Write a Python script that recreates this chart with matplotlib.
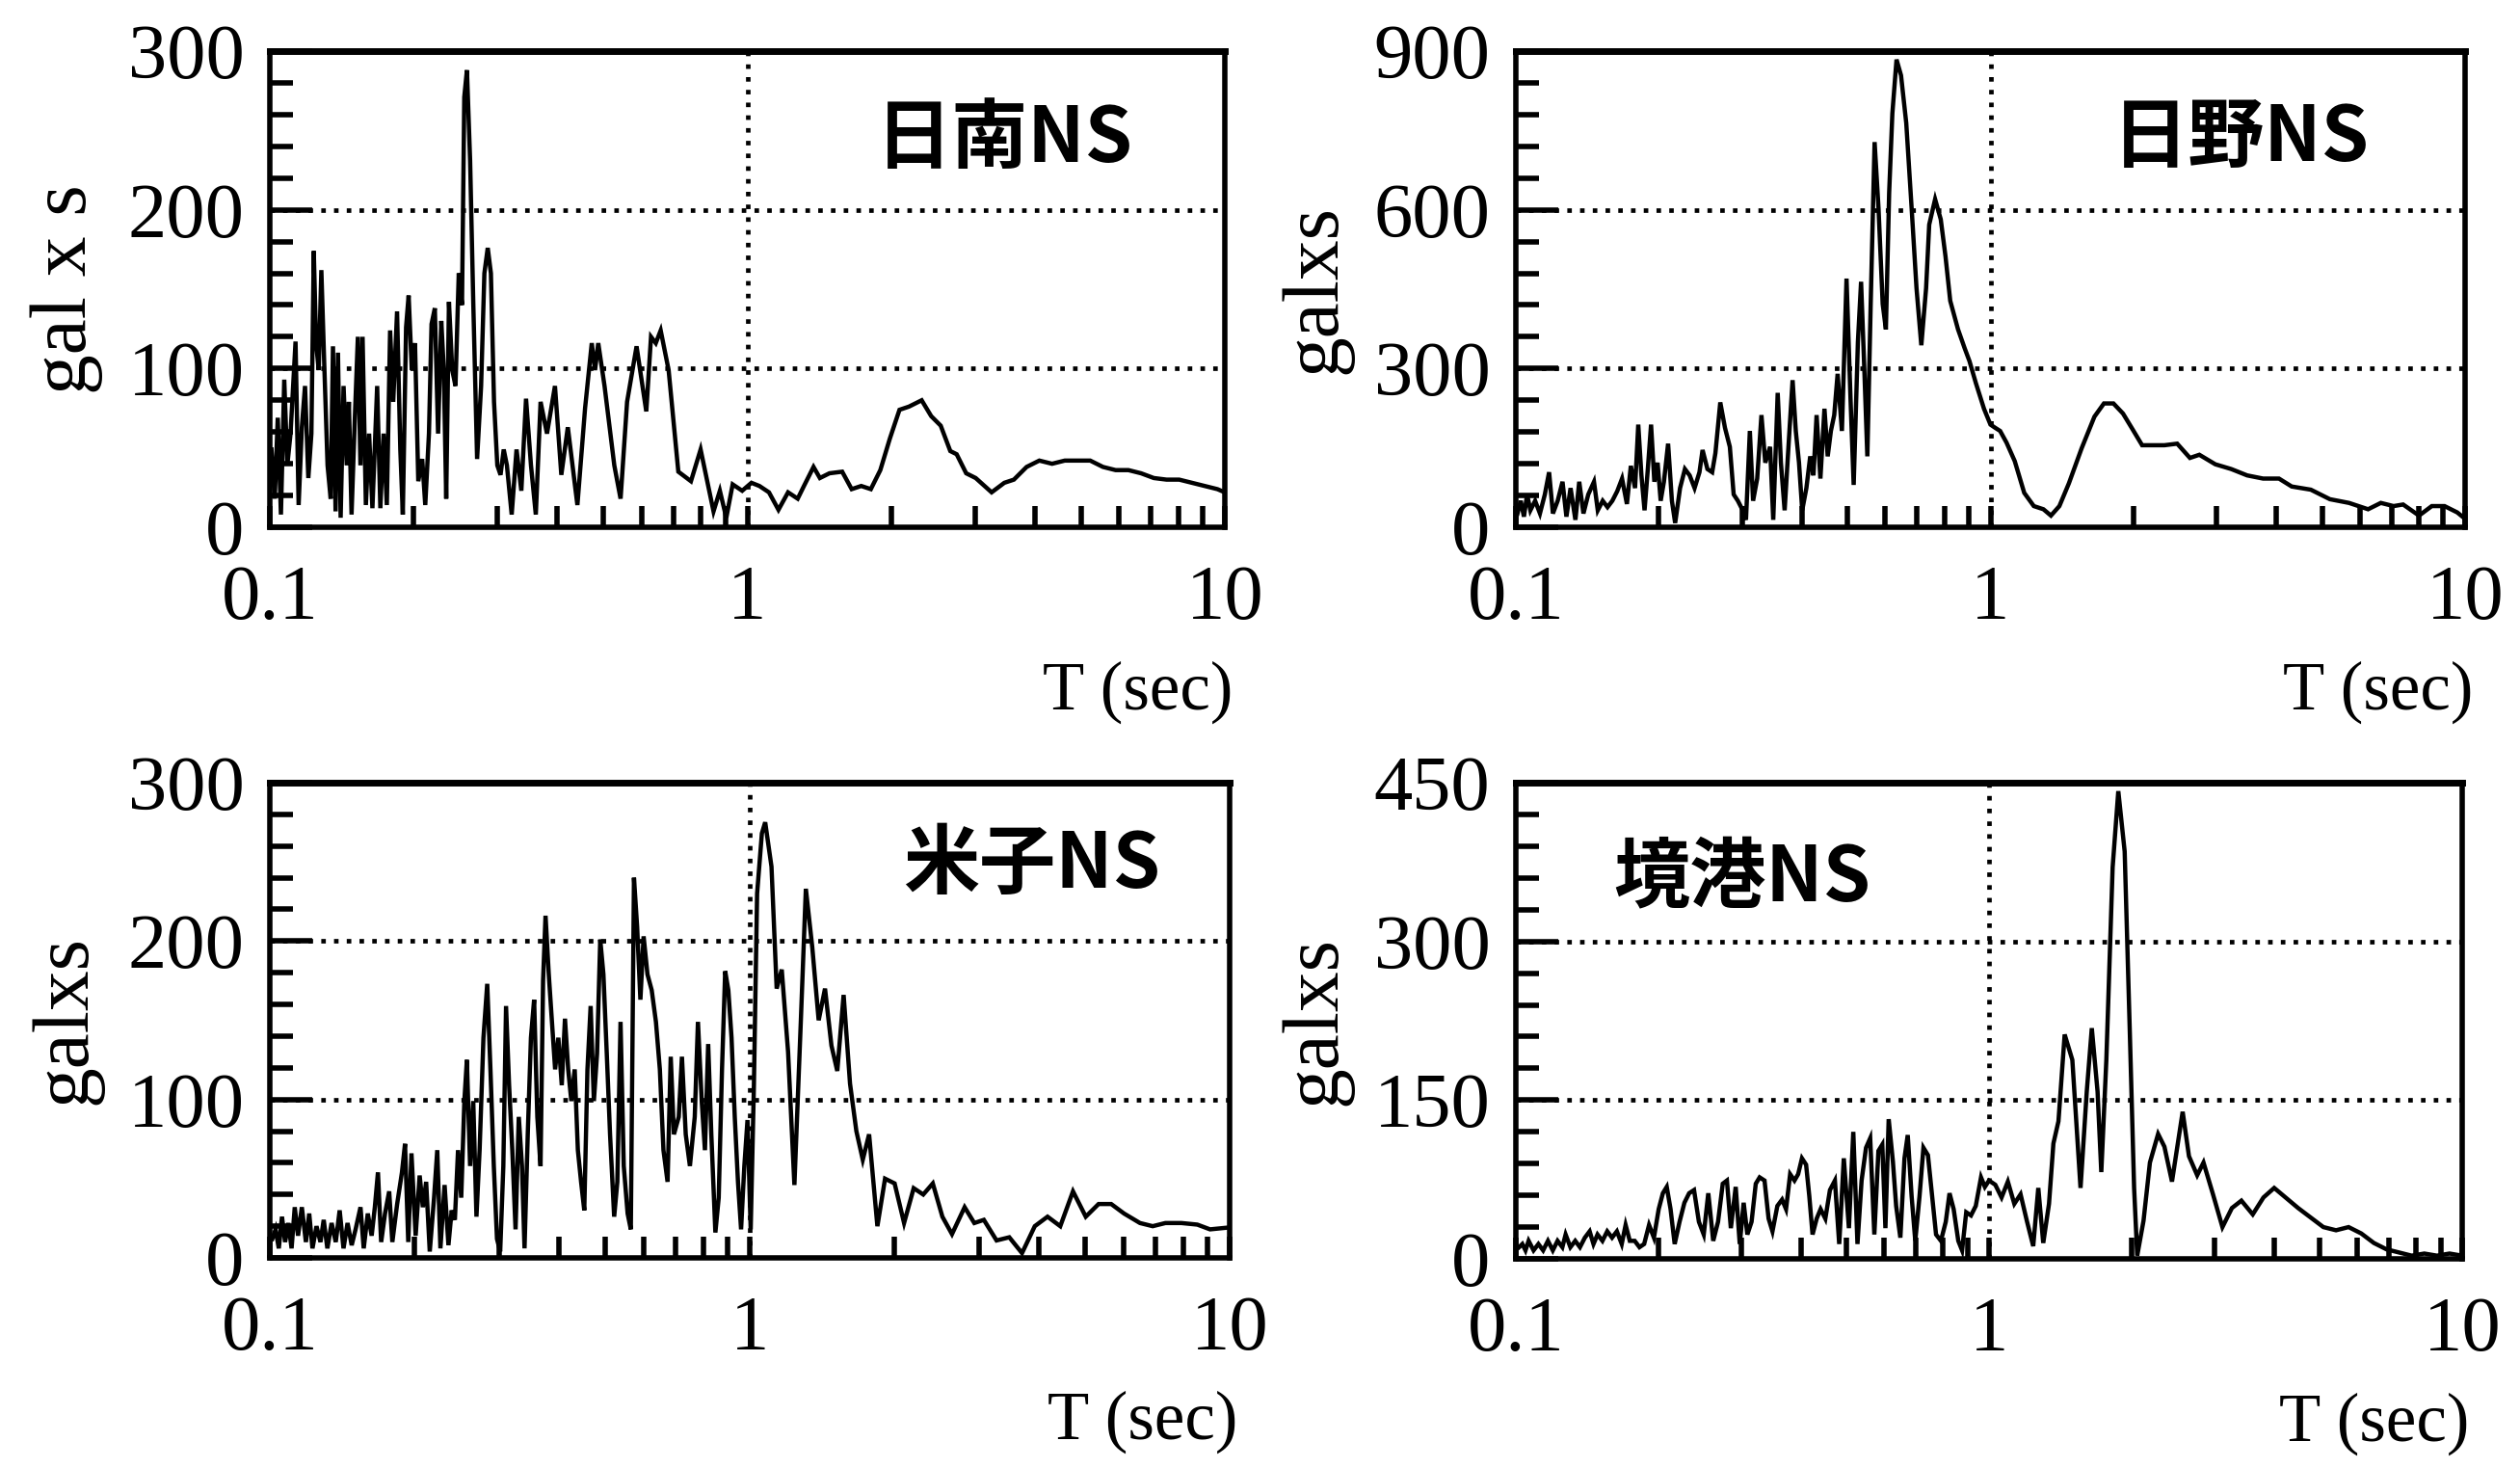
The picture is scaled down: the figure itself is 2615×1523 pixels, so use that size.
import matplotlib
matplotlib.use("Agg")
import matplotlib.pyplot as plt
from matplotlib.ticker import FixedLocator, FixedFormatter, MultipleLocator, NullFormatter

plt.rcParams['font.family'] = ['Liberation Serif', 'DejaVu Serif']

# ---------------- data (period T [sec], spectrum value) ----------------
# 日南NS
T1 = [0.1008, 0.1024, 0.1039, 0.1055, 0.1072, 0.1088, 0.1105, 0.1132, 0.1149, 0.1167,
      0.1185, 0.1204, 0.1222, 0.1236, 0.1250, 0.1266, 0.1282, 0.1300, 0.1321, 0.1341,
      0.1356, 0.1373, 0.1389, 0.1407, 0.1427, 0.1449, 0.1464, 0.1483, 0.1506, 0.1529,
      0.1548, 0.1564, 0.1589, 0.1614, 0.1640, 0.1678, 0.1704, 0.1731, 0.1758, 0.1786,
      0.1813, 0.1847, 0.1876, 0.1899, 0.1929, 0.1953, 0.1983, 0.2014, 0.2046, 0.2085,
      0.2116, 0.2154, 0.2181, 0.2216, 0.2251, 0.2286, 0.2314, 0.2341, 0.2372, 0.2410,
      0.2448, 0.2487, 0.2526, 0.2554, 0.2587, 0.2627, 0.2668, 0.2717, 0.2770, 0.2814,
      0.2860, 0.2904, 0.2948, 0.2995, 0.3042, 0.3089, 0.3137, 0.3210, 0.3286, 0.3363,
      0.3440, 0.3523, 0.3606, 0.3690, 0.3806, 0.3955, 0.4078, 0.4208, 0.4407, 0.4573,
      0.4723, 0.4798, 0.4873, 0.5023, 0.5265, 0.5427, 0.5600, 0.5862, 0.6143, 0.6285,
      0.6431, 0.6585, 0.6842, 0.7170, 0.7620, 0.7983, 0.8496, 0.8760, 0.9036, 0.9317, 0.9755,
      1.02, 1.060, 1.110, 1.162, 1.217, 1.275, 1.314, 1.376, 1.419, 1.486,
      1.580, 1.654, 1.732, 1.814, 1.899, 1.989, 2.083, 2.180, 2.248, 2.318,
      2.427, 2.541, 2.661, 2.744, 2.873, 3.008, 3.248, 3.453, 3.616, 3.845,
      4.088, 4.347, 4.622, 4.914, 5.225, 5.556, 5.906, 6.281, 6.677, 7.101,
      7.550, 8.026, 8.535, 9.075, 9.650, 10.0]
V1 = [49, 18, 69, 8, 93, 39, 59, 117, 14, 63,
      89, 31, 59, 174, 116, 99, 162, 103, 39, 18,
      114, 10, 110, 6, 89, 39, 79, 8, 67, 120,
      39, 120, 14, 59, 12, 89, 12, 59, 14, 124,
      79, 136, 49, 8, 126, 146, 99, 116, 29, 43,
      14, 59, 128, 138, 59, 130, 99, 18, 142, 99,
      89, 160, 140, 271, 288, 231, 140, 43, 89, 160,
      176, 160, 79, 39, 33, 49, 39, 8, 49, 23,
      81, 39, 8, 79, 59, 89, 33, 63, 14, 75,
      116, 99, 116, 89, 39, 18, 79, 114, 73, 120,
      116, 124, 99, 35, 29, 49, 10, 23, 6, 27, 23,
      28, 26, 22, 11, 22, 18, 26, 38, 31, 34,
      35, 24, 26, 24, 36, 56, 74, 76, 78, 80,
      70, 64, 48, 46, 34, 31, 22, 28, 30, 38,
      42, 40, 42, 42, 42, 38, 36, 36, 34, 31,
      30, 30, 28, 26, 24, 22]

# 日野NS
T2 = [0.1008, 0.1024, 0.1040, 0.1056, 0.1073, 0.1098, 0.1124, 0.1151, 0.1175, 0.1197,
      0.1225, 0.1254, 0.1278, 0.1304, 0.1335, 0.1360, 0.1388, 0.1421, 0.1461, 0.1488,
      0.1524, 0.1560, 0.1597, 0.1635, 0.1674, 0.1714, 0.1747, 0.1783, 0.1811, 0.1839,
      0.1867, 0.1897, 0.1927, 0.1958, 0.1989, 0.2019, 0.2051, 0.2093, 0.2132, 0.2166,
      0.2218, 0.2271, 0.2324, 0.2380, 0.2437, 0.2474, 0.2533, 0.2592, 0.2633, 0.2696,
      0.2758, 0.2824, 0.2877, 0.2936, 0.3006, 0.3054, 0.3112, 0.3161, 0.3225, 0.3292,
      0.3354, 0.3433, 0.3486, 0.3562, 0.3618, 0.3684, 0.3753, 0.3829, 0.3889, 0.3950,
      0.4012, 0.4094, 0.4171, 0.4237, 0.4302, 0.4382, 0.4469, 0.4540, 0.4611, 0.4686,
      0.4764, 0.4864, 0.4974, 0.5072, 0.5150, 0.5256, 0.5338, 0.5421, 0.5503, 0.5593,
      0.5700, 0.5810, 0.5928, 0.6021, 0.6117, 0.6213, 0.6340, 0.6480, 0.6646, 0.6823,
      0.6985, 0.7150, 0.7318, 0.7429, 0.7645, 0.7857, 0.8040, 0.8227, 0.8544, 0.8826,
      0.9032, 0.9320, 0.9691, 1.000, 1.023,
      1.048, 1.081, 1.125, 1.178, 1.234, 1.293, 1.341, 1.397, 1.463, 1.556,
      1.656, 1.734, 1.816, 1.902, 1.993, 2.087, 2.186, 2.325, 2.474, 2.632,
      2.755, 2.977, 3.216, 3.474, 3.753, 4.054, 4.313, 4.732, 5.190, 5.694,
      6.247, 6.645, 7.069, 7.404, 7.998, 8.509, 9.051, 9.628, 10.0]
V2 = [26, 50, 20, 62, 32, 50, 26, 62, 104, 26,
      50, 86, 20, 74, 14, 86, 26, 62, 86, 32,
      50, 38, 50, 68, 92, 44, 116, 74, 194, 98,
      32, 110, 194, 86, 122, 50, 86, 158, 50, 8,
      74, 110, 98, 74, 104, 146, 110, 104, 140, 236,
      188, 152, 62, 50, 32, 14, 182, 50, 92, 212,
      122, 152, 14, 254, 122, 32, 152, 278, 182, 122,
      32, 74, 134, 98, 212, 92, 224, 134, 182, 212,
      290, 182, 470, 242, 80, 350, 464, 302, 134, 422,
      728, 602, 422, 374, 632, 782, 884, 854, 764, 602,
      452, 344, 452, 572, 620, 582, 512, 428, 374, 338,
      314, 272, 224, 194, 188,
      182, 160, 125, 65, 40, 34, 22, 40, 83, 149,
      209, 234, 234, 215, 185, 155, 155, 155, 158, 131,
      137, 119, 110, 98, 92, 92, 77, 71, 53, 46,
      34, 46, 40, 43, 22, 40, 40, 28, 16]

# 米子NS
T3 = [0.1012, 0.1028, 0.1044, 0.1060, 0.1076, 0.1093, 0.1110, 0.1127, 0.1145, 0.1166,
      0.1189, 0.1208, 0.1227, 0.1251, 0.1275, 0.1295, 0.1318, 0.1345, 0.1372, 0.1398,
      0.1424, 0.1452, 0.1481, 0.1509, 0.1545, 0.1569, 0.1600, 0.1630, 0.1655, 0.1680,
      0.1706, 0.1738, 0.1773, 0.1800, 0.1842, 0.1885, 0.1913, 0.1943, 0.1973, 0.2013,
      0.2052, 0.2084, 0.2117, 0.2154, 0.2199, 0.2233, 0.2267, 0.2313, 0.2356, 0.2393,
      0.2430, 0.2467, 0.2505, 0.2543, 0.2574, 0.2614, 0.2654, 0.2695, 0.2736, 0.2787,
      0.2838, 0.2882, 0.2929, 0.2974, 0.3020, 0.3066, 0.3106, 0.3152, 0.3201, 0.3251,
      0.3302, 0.3353, 0.3394, 0.3447, 0.3500, 0.3554, 0.3609, 0.3665, 0.3710, 0.3754,
      0.3813, 0.3871, 0.3931, 0.3992, 0.4058, 0.4121, 0.4185, 0.4249, 0.4318, 0.4384,
      0.4452, 0.4521, 0.4590, 0.4661, 0.4734, 0.4807, 0.4881, 0.4956, 0.5036, 0.5116,
      0.5218, 0.5298, 0.5380, 0.5464, 0.5566, 0.5652, 0.5738, 0.5826, 0.5918, 0.6010,
      0.6122, 0.6248, 0.6376, 0.6497, 0.6610, 0.6742, 0.6845, 0.6951, 0.7114, 0.7223,
      0.7356, 0.7505, 0.7681, 0.7800, 0.7943, 0.8066, 0.8192, 0.8317, 0.8480, 0.8617,
      0.8754, 0.8889, 0.9024, 0.9164, 0.9307, 0.9451, 0.9593, 0.9744, 0.9893, 1.0046,
      1.0202, 1.0360, 1.0600, 1.077,
      1.110, 1.138, 1.166, 1.202, 1.239, 1.278, 1.309, 1.350, 1.392, 1.435,
      1.480, 1.522, 1.569, 1.618, 1.668, 1.720, 1.773, 1.845, 1.914, 2.004,
      2.097, 2.196, 2.299, 2.407, 2.520, 2.639, 2.804, 2.937, 3.075, 3.268,
      3.474, 3.693, 3.926, 4.174, 4.437, 4.716, 5.014, 5.332, 5.665, 6.025,
      6.503, 6.913, 7.348, 7.933, 8.563, 9.103, 9.826]
V3 = [12, 18, 6, 26, 10, 22, 6, 32, 14, 32,
      10, 28, 6, 20, 10, 24, 6, 22, 10, 30,
      6, 22, 8, 18, 32, 6, 28, 14, 32, 54,
      10, 28, 42, 10, 34, 54, 72, 10, 66, 14,
      52, 32, 48, 4, 38, 68, 6, 46, 8, 30,
      24, 68, 38, 99, 125, 58, 99, 26, 68, 139,
      173, 119, 58, 12, 4, 58, 159, 109, 68, 18,
      89, 58, 6, 78, 139, 163, 89, 58, 175, 216,
      179, 149, 119, 139, 109, 151, 119, 99, 119, 68,
      48, 30, 119, 159, 99, 129, 201, 179, 129, 78,
      26, 48, 149, 58, 28, 18, 240, 209, 163, 203,
      179, 169, 149, 119, 68, 48, 127, 78, 89, 127,
      78, 58, 89, 149, 99, 68, 135, 78, 16, 38,
      119, 181, 169, 139, 89, 48, 18, 58, 87, 18,
      109, 230, 268, 275,
      247, 170, 182, 130, 46, 150, 233, 196, 150, 170,
      134, 118, 166, 110, 80, 62, 78, 20, 50, 47,
      22, 44, 40, 47, 26, 15, 32, 22, 24, 11,
      13, 3, 20, 26, 20, 42, 26, 34, 34, 28,
      22, 20, 22, 22, 21, 18, 19]

# 境港NS
T4 = [0.1016, 0.1032, 0.1048, 0.1064, 0.1090, 0.1116, 0.1142, 0.1169, 0.1197, 0.1225,
      0.1254, 0.1274, 0.1304, 0.1335, 0.1366, 0.1399, 0.1432, 0.1459, 0.1488, 0.1524,
      0.1560, 0.1597, 0.1635, 0.1674, 0.1706, 0.1741, 0.1783, 0.1825, 0.1867, 0.1912,
      0.1958, 0.2004, 0.2045, 0.2084, 0.2123, 0.2166, 0.2218, 0.2271, 0.2324, 0.2380,
      0.2437, 0.2495, 0.2551, 0.2613, 0.2675, 0.2737, 0.2793, 0.2847, 0.2915, 0.2973,
      0.3030, 0.3085, 0.3149, 0.3214, 0.3275, 0.3354, 0.3421, 0.3486, 0.3570, 0.3653,
      0.3724, 0.3799, 0.3880, 0.3950, 0.4024, 0.4106, 0.4171, 0.4237, 0.4323, 0.4406,
      0.4509, 0.4611, 0.4724, 0.4824, 0.4933, 0.5057, 0.5166, 0.5272, 0.5379, 0.5496,
      0.5609, 0.5723, 0.5838, 0.5949, 0.6040, 0.6137, 0.6264, 0.6364, 0.6496, 0.6627,
      0.6733, 0.6862, 0.6985, 0.7130, 0.7268, 0.7429, 0.7583, 0.7728, 0.7913, 0.8102,
      0.8252, 0.8419, 0.8611, 0.8771, 0.8950, 0.9160, 0.9376, 0.9618, 0.9800, 1.000,
      1.031, 1.063, 1.096, 1.131, 1.166, 1.202, 1.240, 1.271, 1.302, 1.339,
      1.368, 1.402, 1.445, 1.500, 1.561, 1.609, 1.649, 1.696, 1.727, 1.770,
      1.825, 1.876, 1.935, 1.983, 2.026, 2.057, 2.121, 2.188, 2.277, 2.348,
      2.436, 2.512, 2.566, 2.646, 2.754, 2.840, 2.974, 3.114, 3.261, 3.415,
      3.609, 3.802, 4.006, 4.233, 4.501, 4.786, 5.089, 5.412, 5.754, 6.119,
      6.506, 6.918, 7.356, 7.822, 8.318, 8.845, 9.405, 10.0]
V4 = [11, 14, 8, 17, 8, 14, 8, 17, 8, 17,
      11, 23, 11, 17, 11, 20, 26, 14, 23, 17,
      26, 20, 26, 14, 32, 17, 17, 11, 14, 32,
      20, 47, 62, 68, 47, 14, 35, 53, 62, 65,
      35, 23, 62, 17, 35, 71, 74, 29, 68, 14,
      53, 23, 35, 71, 77, 74, 38, 26, 50, 56,
      47, 80, 74, 80, 95, 89, 59, 23, 38, 47,
      38, 65, 74, 14, 95, 29, 120, 14, 74, 105,
      114, 23, 102, 108, 29, 132, 92, 50, 20, 95,
      117, 59, 17, 59, 105, 98, 59, 23, 17, 35,
      62, 47, 17, 8, 44, 41, 50, 77, 68, 74,
      70, 58, 73, 52, 61, 36, 12, 67, 15, 52,
      109, 130, 212, 188, 67, 158, 218, 158, 82, 188,
      370, 442, 385, 218, 67, 3, 36, 91, 118, 106,
      73, 112, 139, 97, 79, 91, 61, 30, 48, 55,
      42, 58, 67, 58, 48, 39, 30, 27, 30, 24,
      15, 9, 6, 3, 5, 3, 5, 3]

titles = ['日南NS', '日野NS', '米子NS', '境港NS']
ylabels = ['gal x s', 'galxs', 'galxs', 'galxs']
ymax_list = [300, 900, 300, 450]
ymajor_list = [100, 300, 100, 150]
yminor_list = [20, 60, 20, 30]
x_major = [0.1, 1, 10]
x_major_labels = ['0.1', '1', '10']
x_minor = [0.2, 0.3, 0.4, 0.5, 0.6, 0.7, 0.8, 0.9, 2, 3, 4, 5, 6, 7, 8, 9]

series = [(T1, V1), (T2, V2), (T3, V3), (T4, V4)]

# ---------------- layout ----------------
W, H = 2615, 1523
fig = plt.figure(figsize=(W / 100, H / 100), dpi=100)

boxes = [(280, 53, 1271, 547), (1573, 53, 2558, 547),
         (280, 812, 1276, 1305), (1573, 812, 2555, 1306)]
title_pos = [(0.769, 0.814), (0.764, 0.816), (0.794, 0.826), (0.239, 0.80)]
ylabel_x = [69, 1366]

for i, (l, t, r, b) in enumerate(boxes):
    ax = fig.add_axes([l / W, 1 - b / H, (r - l) / W, (b - t) / H])
    T, V = series[i]
    ymax = ymax_list[i]
    ax.plot(T, V, color='black', lw=3.2, solid_joinstyle='miter', zorder=3)
    ax.set_xscale('log')
    ax.set_xlim(0.1, 10)
    ax.set_ylim(0, ymax)

    # dotted reference grid
    for yv in range(ymajor_list[i], ymax, ymajor_list[i]):
        ax.axhline(yv, color='black', lw=3.4, ls=(0, (1, 1.8)), zorder=1)
    ax.axvline(1, color='black', lw=3.4, ls=(0, (1, 1.8)), zorder=1)

    ax.xaxis.set_major_locator(FixedLocator(x_major))
    ax.xaxis.set_major_formatter(FixedFormatter(x_major_labels))
    ax.xaxis.set_minor_locator(FixedLocator(x_minor))
    ax.xaxis.set_minor_formatter(NullFormatter())
    ax.yaxis.set_major_locator(MultipleLocator(ymajor_list[i]))
    ax.yaxis.set_minor_locator(MultipleLocator(yminor_list[i]))

    ax.tick_params(axis='both', which='both', direction='in', top=False, right=False,
                   width=4, labelsize=58, color='black')
    ax.tick_params(axis='y', which='major', length=32, pad=19)
    ax.tick_params(axis='y', which='minor', length=17)
    ax.tick_params(axis='x', which='major', length=16, pad=28)
    ax.tick_params(axis='x', which='minor', length=16)

    for name, sp in ax.spines.items():
        sp.set_linewidth(5 if name == 'top' else 4)

    ax.text(title_pos[i][0], title_pos[i][1], titles[i], transform=ax.transAxes,
            ha='center', va='center', fontsize=57, fontweight='bold',
            family=['Noto Sans CJK JP', 'DejaVu Sans'])
    ax.text(1.008, -0.381, 'T (sec)', transform=ax.transAxes, ha='right',
            va='baseline', fontsize=51)

    cy = 1 - (t + b) / 2 / H
    fig.text(ylabel_x[i % 2] / W, cy, ylabels[i], rotation=90, ha='center',
             va='center', fontsize=60)

fig.savefig('out.png', dpi=100)
